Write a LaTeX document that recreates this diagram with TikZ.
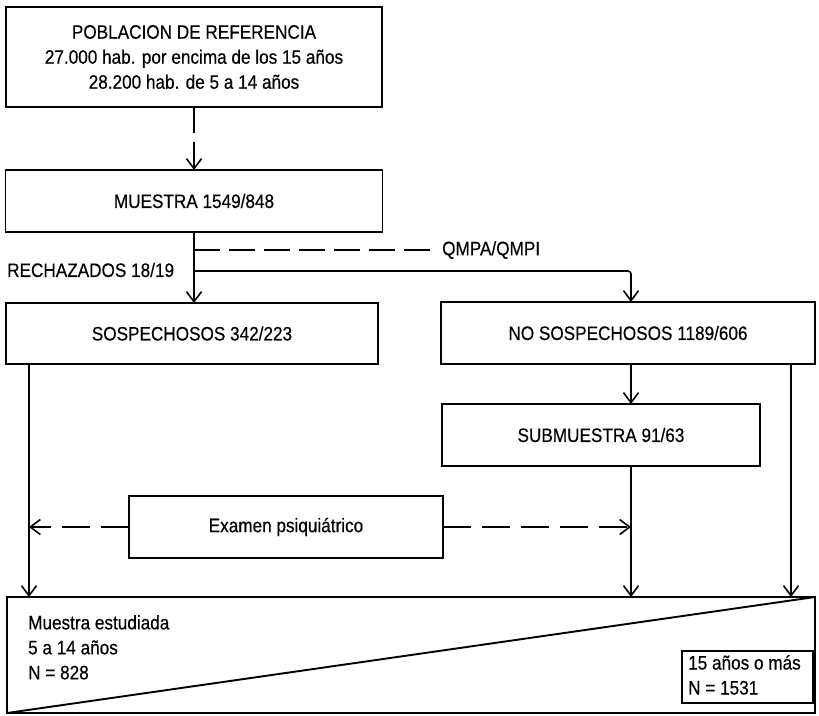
\documentclass[tikz,border=0pt]{standalone}
\usepackage{fontspec}
\setmainfont{Liberation Sans}[FakeStretch=0.88,FakeBold=0.4]
\usetikzlibrary{arrows.meta}
\begin{document}
\begin{tikzpicture}[x=1pt,y=-1pt,
  font=\fontsize{19.5}{25}\selectfont,
  box/.style={draw, line width=1.9pt, inner sep=0pt, outer sep=0pt, align=center},
  conn/.style={line width=1.6pt},
  arr/.style={conn, -{Straight Barb[length=10pt,width=15pt,line width=1.6pt]}},
  dashlong/.style={dash pattern=on 26pt off 9pt},
  dashshort/.style={dash pattern=on 28pt off 11pt}]
\useasboundingbox (0,0) rectangle (819,715);
\node[box, minimum width=376, minimum height=100] (pop) at (194,57)
  {POBLACION DE REFERENCIA\\27.000 hab. por encima de los 15 años\\28.200 hab. de 5 a 14 años};
\node[box, minimum width=377, minimum height=62] (mue) at (194,201) {MUESTRA 1549/848};
\node[box, minimum width=372, minimum height=61] (sos) at (192,333.5) {SOSPECHOSOS 342/223};
\node[box, minimum width=374, minimum height=62] (nos) at (628,333) {NO SOSPECHOSOS 1189/606};
\node[box, minimum width=318, minimum height=62] (sub) at (601,435) {SUBMUESTRA 91/63};
\node[box, minimum width=314, minimum height=62] (exa) at (286,527) {Examen psiquiátrico};
\node[box, minimum width=808, minimum height=116] (big) at (411,655) {};
\node[box, minimum width=131, minimum height=52] (adu) at (747.5,677) {};
\node[anchor=west, inner sep=0pt] (aduT) at (688,677) {\begin{tabular}{@{}l@{}}15 años o más\\N = 1531\end{tabular}};
\node[anchor=north west, inner sep=0pt, align=left] (kidT) at (28,615) {Muestra estudiada\\5 a 14 años\\N = 828};
\node[anchor=west, inner sep=0pt] (rech) at (7,270) {RECHAZADOS 18/19};
\node[anchor=west, inner sep=0pt] (qm) at (442,250) {QMPA/QMPI};
% diagonal
\draw[line width=1.9pt] (big.south west) -- (big.north east);
% connectors
\draw[arr, dashlong] (pop.south) -- (mue.north);
\draw[arr] (mue.south) -- (mue.south |- sos.north);
\draw[conn, dashlong] (mue.south |- qm.west) -- ([xshift=-8pt]qm.west);
\draw[arr, rounded corners=3pt] (mue.south |- 0,271) -| ([xshift=3pt]nos.north);
\draw[arr] ([xshift=3pt]nos.south) -- ([xshift=3pt]nos.south |- sub.north);
\draw[arr] ([xshift=3pt]nos.south |- sub.south) -- ([xshift=3pt]nos.south |- big.north);
\draw[arr] (sos.south -| 29,0) -- (big.north -| 29,0);
\draw[arr] (nos.south -| 791,0) -- (big.north -| 791,0);
\draw[arr, dashshort] (exa.west) -- (exa.west -| 29,0);
\draw[arr, dashshort] (exa.east) -- (exa.east -| 631,0);
\end{tikzpicture}
\end{document}
